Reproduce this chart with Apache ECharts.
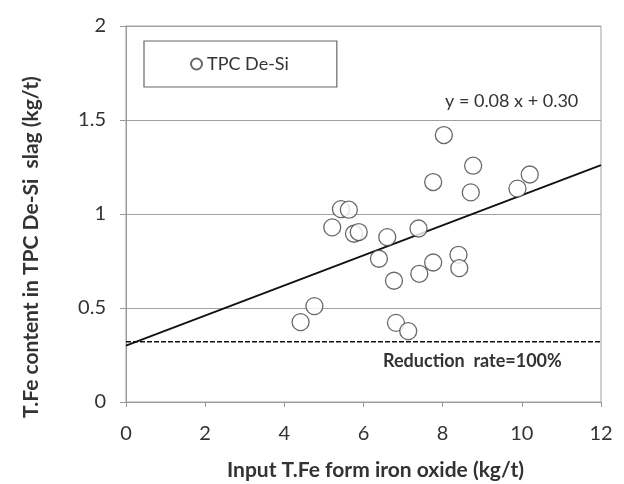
<!DOCTYPE html>
<html>
<head>
<meta charset="utf-8">
<script src="https://cdn.jsdelivr.net/npm/echarts@6/dist/echarts.min.js"></script>
<style>
  html, body { margin: 0; padding: 0; background: #fff; }
  #chart { width: 624px; height: 484px; }
</style>
</head>
<body>
<div id="chart"></div>
<script>
// input T.Fe (kg/t) and T.Fe in slag (kg/t)
const inputFe = [8.03, 8.77, 7.76, 8.71, 10.2, 9.89, 5.43, 5.63, 5.21, 5.76, 5.88, 7.39,
                 6.6, 6.39, 8.4, 8.42, 7.76, 7.41, 6.77, 4.76, 4.41, 6.82, 7.13];
const slagFe  = [1.42, 1.257, 1.17, 1.115, 1.21, 1.135, 1.026, 1.023, 0.929, 0.895, 0.904, 0.923,
                 0.877, 0.762, 0.783, 0.712, 0.742, 0.682, 0.645, 0.51, 0.425, 0.421, 0.377];
const slope = 0.08;
const intercept = 0.30;
const fullReduction = 0.32;
const xTicks = [0, 12];

const chart = echarts.init(document.getElementById('chart'));
const font = 'Lato, "Open Sans", sans-serif';

let option = {
    animation: false,
    textStyle: { fontFamily: font },
    grid: {
        left: 126, right: 23, top: 26, bottom: 82,
        show: true, borderColor: '#a0a0a0', borderWidth: 1
    },
    legend: {
        data: ['TPC De-Si'],
        left: 144, top: 41,
        padding: [14, 48, 14, 46],
        borderColor: '#666', borderWidth: 1.2,
        itemWidth: 11, itemHeight: 11,
        textStyle: { fontSize: 18, color: '#333', fontFamily: font }
    },
    xAxis: {
        type: 'value', min: 0, max: 12, interval: 2,
        axisLine: { lineStyle: { color: '#999' } },
        axisTick: { show: true, length: 5, lineStyle: { color: '#999' } },
        splitLine: { show: false },
        axisLabel: { fontSize: 20, color: '#333', margin: 22 }
    },
    yAxis: {
        type: 'value', min: 0, max: 2, interval: 0.5,
        axisLine: { show: true, lineStyle: { color: '#999' } },
        axisTick: { show: true, length: 6, lineStyle: { color: '#999' } },
        splitLine: { show: true, lineStyle: { color: '#a0a0a0', width: 1 } },
        axisLabel: { fontSize: 20, color: '#333', margin: 20 }
    },
    graphic: [
        {
            type: 'text', left: 227, top: 460,
            style: { text: 'Input T.Fe form iron oxide (kg/t)', font: 'bold 21px ' + font, fill: '#333' }
        },
        {
            type: 'text', x: 21, y: 418, rotation: Math.PI / 2,
            style: { text: 'T.Fe content in TPC De-Si  slag (kg/t)', font: 'bold 21px ' + font, fill: '#333' }
        },
        {
            type: 'text', left: 445, top: 92,
            style: { text: 'y = 0.08 x + 0.30', font: '18px ' + font, fill: '#333' }
        },
        {
            type: 'text', left: 383, top: 352,
            style: { text: 'Reduction  rate=100%', font: 'bold 18px ' + font, fill: '#333' }
        }
    ],
    series: [
        {
            name: 'TPC De-Si',
            type: 'scatter',
            symbol: 'circle',
            symbolSize: 17,
            itemStyle: { color: '#fff', borderColor: '#444', borderWidth: 1.3 },
            data: inputFe.map((x, i) => [x, slagFe[i]]),
            z: 5
        },
        {
            name: 'fit',
            type: 'line',
            symbol: 'none',
            lineStyle: { color: '#111', width: 1.8 },
            data: xTicks.map(x => [x, slope * x + intercept]),
            z: 4
        },
        {
            name: 'reduction',
            type: 'line',
            symbol: 'none',
            lineStyle: { color: '#111', width: 1.5, type: [5, 2] },
            data: xTicks.map(x => [x, fullReduction]),
            z: 3
        }
    ]
};
chart.setOption(option);
</script>
</body>
</html>
